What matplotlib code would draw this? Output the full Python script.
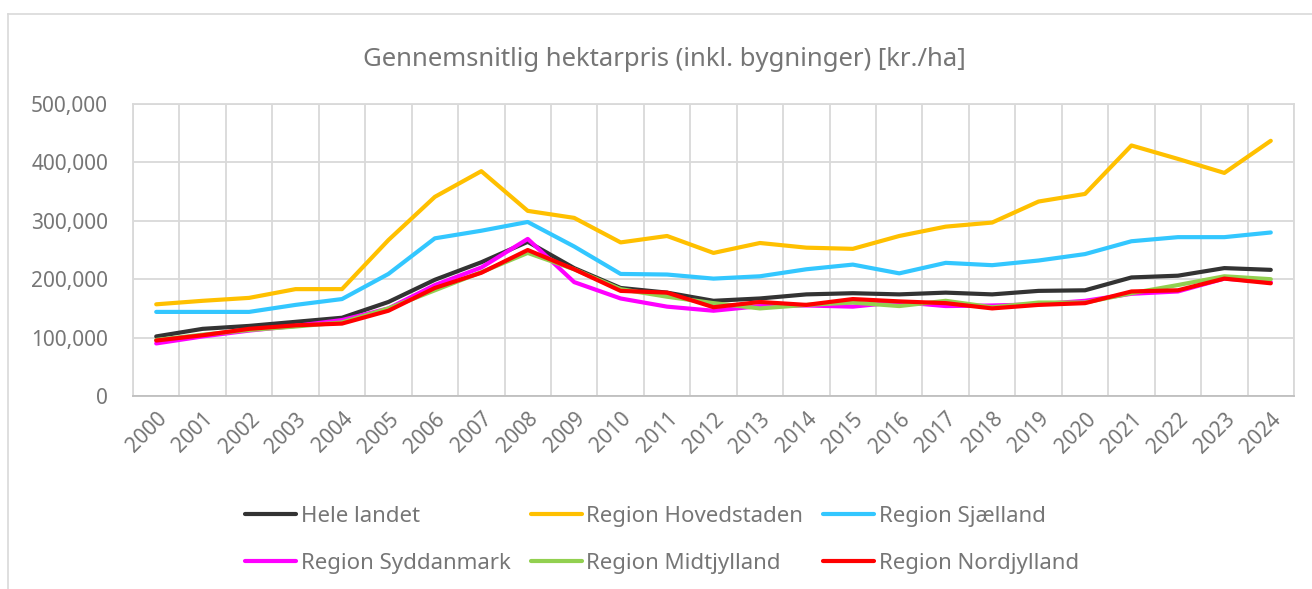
import numpy as np
import matplotlib
matplotlib.use("Agg")
import matplotlib.pyplot as plt
from matplotlib.lines import Line2D
from matplotlib.ticker import FuncFormatter

plt.rcParams['font.family'] = ['Noto Sans', 'DejaVu Sans']

years = [str(y) for y in range(2000, 2025)]

hele_landet = [102000, 115000, 120000, 127000, 134000, 161000, 199000, 229000, 264000, 219000,
               185000, 177000, 163000, 167000, 174000, 176000, 174000, 177000, 174000, 180000,
               181000, 203000, 206000, 219000, 216000]
hovedstaden = [157000, 163000, 168000, 183000, 183000, 267000, 341000, 385000, 317000, 305000,
               263000, 274000, 245000, 262000, 254000, 252000, 274000, 290000, 297000, 333000,
               346000, 429000, 406000, 382000, 437000]
sjaelland = [144000, 144000, 144000, 156000, 166000, 209000, 270000, 283000, 298000, 256000,
             209000, 208000, 201000, 205000, 217000, 225000, 210000, 228000, 224000, 232000,
             243000, 265000, 272000, 272000, 280000]
syddanmark = [90000, 102000, 112000, 120000, 130000, 150000, 190000, 220000, 269000, 195000,
              167000, 153000, 146000, 154000, 155000, 153000, 161000, 154000, 155000, 157000,
              163000, 175000, 179000, 201000, 195000]
midtjylland = [96000, 105000, 113000, 119000, 126000, 150000, 181000, 212000, 245000, 217000,
               183000, 170000, 159000, 150000, 156000, 160000, 154000, 163000, 152000, 160000,
               160000, 176000, 190000, 205000, 200000]
nordjylland = [95000, 104000, 115000, 121000, 124000, 146000, 185000, 211000, 250000, 217000,
               180000, 177000, 152000, 161000, 156000, 166000, 162000, 159000, 150000, 156000,
               159000, 179000, 181000, 201000, 193000]

series = [
    ("Hele landet", hele_landet, "#333333"),
    ("Region Hovedstaden", hovedstaden, "#FFC000"),
    ("Region Sjælland", sjaelland, "#33C7FF"),
    ("Region Syddanmark", syddanmark, "#FF00FF"),
    ("Region Midtjylland", midtjylland, "#92D050"),
    ("Region Nordjylland", nordjylland, "#FF0000"),
]

W, H = 1312, 589
fig = plt.figure(figsize=(W / 100, H / 100), dpi=100)
ax = fig.add_axes([133 / W, 1 - 396 / H, (1294 - 133) / W, (396 - 104) / H])

x = np.arange(len(years))
for name, vals, col in series:
    ax.plot(x, vals, color=col, lw=3, label=name, solid_capstyle='round', solid_joinstyle='round')

txt = "#767676"
grid = "#D9D9D9"
ax.set_xlim(-0.5, len(years) - 0.5)
ax.set_ylim(0, 500000)
ax.set_yticks(np.arange(0, 500001, 100000))
ax.yaxis.set_major_formatter(FuncFormatter(lambda v, p: f"{int(v):,}"))
ax.set_xticks(x)
ax.set_xticklabels(years, rotation=45, ha='right', va='top', rotation_mode='anchor')
ax.set_xticks(np.arange(-0.5, len(years), 1), minor=True)
ax.tick_params(axis='both', which='both', length=0, colors=txt, labelsize=15)
ax.tick_params(axis='x', pad=9)
ax.tick_params(axis='y', pad=18)
ax.grid(True, axis='y', which='major', color=grid, lw=1.3)
ax.grid(True, axis='x', which='minor', color=grid, lw=1.3)
ax.set_axisbelow(True)
for s in ['left', 'top', 'right']:
    ax.spines[s].set_color(grid)
    ax.spines[s].set_linewidth(1.3)
ax.spines['bottom'].set_color("#BFBFBF")
ax.spines['bottom'].set_linewidth(1.3)

fig.text(664 / W, 1 - 59 / H, "Gennemsnitlig hektarpris (inkl. bygninger) [kr./ha]",
         ha='center', va='center', fontsize=18.5, color=txt)

# chart area border (top and left visible)
fig.add_artist(Line2D([8 / W, 8 / W], [0, 1 - 14 / H], color=grid, lw=1.2))
fig.add_artist(Line2D([8 / W, 1], [1 - 14 / H, 1 - 14 / H], color=grid, lw=1.2))

handles, labels = ax.get_legend_handles_labels()
order = [0, 3, 1, 4, 2, 5]
leg = fig.legend([handles[i] for i in order], [labels[i] for i in order], ncol=3, loc='center',
                 bbox_to_anchor=(662 / W, 1 - 540 / H),
                 frameon=False, fontsize=16, labelcolor=txt, handlelength=2.3,
                 handletextpad=0.2, columnspacing=0.9, labelspacing=1.15)

fig.savefig("out.png", dpi=100, facecolor='white')
